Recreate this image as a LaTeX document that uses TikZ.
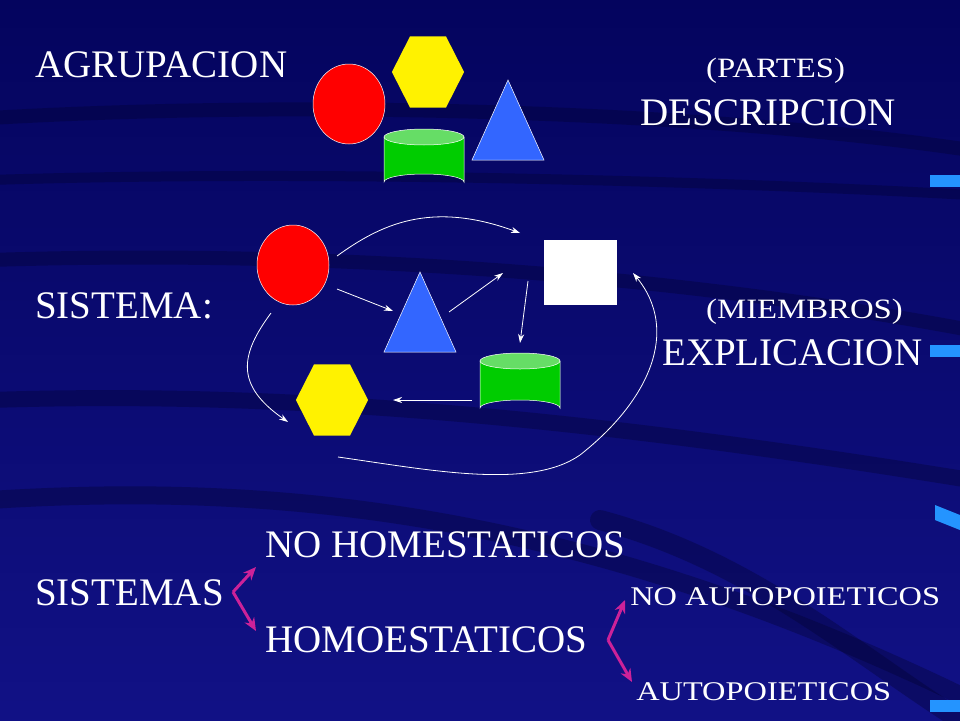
\documentclass[tikz,border=0pt]{standalone}
\usepackage{fontspec}
\setmainfont{Liberation Serif}
\usetikzlibrary{arrows.meta,shapes.geometric}
\definecolor{navy}{HTML}{04045E}
\definecolor{navyl}{HTML}{1A1AA0}
\definecolor{streak}{HTML}{02022E}
\definecolor{cylgreen}{HTML}{00CC00}
\definecolor{cyltop}{HTML}{66DD66}
\definecolor{triblue}{HTML}{3366FF}
\definecolor{mag}{HTML}{CC2299}
\tikzset{
  txt/.style={anchor=base west,inner sep=0,text=white,font=\fontsize{39}{39}\selectfont},
  stxt/.style={anchor=base west,inner sep=0,text=white,font=\fontsize{28}{28}\selectfont,xscale=1.17},
  xtxt/.style={anchor=base west,inner sep=0,text=white,font=\fontsize{27}{27}\selectfont,xscale=1.2},
  flow/.style={white,line width=0.8pt,-{Stealth[length=9pt,width=6pt]}},
  brace/.style={mag,line width=3pt,-{Stealth[length=13pt,width=11pt]}},
  redc/.style={ellipse,fill=red,draw=white,line width=0.5pt,minimum width=72pt,minimum height=80pt,inner sep=0},
  hexa/.style={regular polygon,regular polygon sides=6,shape border rotate=0,fill=yellow,minimum size=82pt,inner sep=0,xscale=0.88},
  sq/.style={fill=white,minimum width=73pt,minimum height=65pt,inner sep=0}
}
\newcommand{\cylinder}[3]{% center x, top y, bottom y
  \fill[cylgreen,draw=white,line width=0.5pt] (#1-40,#2) -- (#1-40,#3) arc[start angle=180,end angle=360,x radius=40,y radius=8] -- (#1+40,#2) -- cycle;
  \fill[cyltop,draw=white,line width=0.5pt] (#1,#2) ellipse[x radius=40,y radius=8];
}
\begin{document}
\begin{tikzpicture}[x=1pt,y=-1pt]
\useasboundingbox (0,0) rectangle (960,720);
\shade[top color=navy,bottom color=navyl!60!navy] (0,0) rectangle (960,720);
\begin{scope}[streak,opacity=0.35,line cap=round]
\draw[line width=14pt] (-10,118) .. controls (300,100) and (700,110) .. (970,150);
\draw[line width=10pt] (-10,180) .. controls (300,170) and (700,180) .. (970,195);
\draw[line width=14pt] (-10,260) .. controls (300,250) and (650,270) .. (970,330);
\draw[line width=16pt] (-10,400) .. controls (300,390) and (600,420) .. (970,480);
\draw[line width=18pt] (-10,500) .. controls (300,480) and (600,520) .. (970,700);
\draw[line width=20pt] (600,520) .. controls (750,560) and (850,650) .. (960,720);
\end{scope}
\fill[triblue!70!cyan] (930,175) rectangle (960,187);
\fill[triblue!70!cyan] (930,345) rectangle (960,357);
\fill[triblue!70!cyan] (935,505) -- (960,515) -- (960,530) -- (935,520) -- cycle;
\fill[triblue!70!cyan] (930,700) rectangle (960,712);

% texts
\node[txt] (agr) at (35,77) {AGRUPACION};
\node[stxt] (par) at (706,77) {(PARTES)};
\node[txt] (des) at (640,125) {DESCRIPCION};
\node[txt] (sis) at (35,318) {SISTEMA:};
\node[stxt] (mie) at (706,318) {(MIEMBROS)};
\node[txt] (exp) at (662,365) {EXPLICACION};
\node[txt] (noh) at (265,557) {NO HOMESTATICOS};
\node[txt] (sss) at (35,605) {SISTEMAS};
\node[xtxt] (noa) at (630,605) {NO AUTOPOIETICOS};
\node[txt] (hom) at (265,652) {HOMOESTATICOS};
\node[xtxt] (aut) at (636,700) {AUTOPOIETICOS};

% top group
\node[redc] (c1) at (349,104) {};
\node[hexa] (h1) at (428,72) {};
\fill[triblue,draw=white,line width=0.5pt] (508,80) -- (544,160) -- (472,160) -- cycle;
\cylinder{424}{137}{182}

% middle system
\node[redc] (c2) at (293,265) {};
\node[sq] (s2) at (580.5,272.5) {};
\node[hexa] (h2) at (332,400) {};
\fill[triblue,draw=white,line width=0.5pt] (420,272) -- (456,352) -- (384,352) -- cycle;
\cylinder{520}{361}{408}

\coordinate (a1) at (337,256); \coordinate (a2) at (520,233);
\draw[flow] (a1) .. controls (380,225) and (430,200) .. (a2);
\coordinate (b1) at (337,289); \coordinate (b2) at (393,311);
\draw[flow] (b1) -- (b2);
\coordinate (d1) at (449,312); \coordinate (d2) at (503,273);
\draw[flow] (d1) -- (d2);
\coordinate (e1) at (528,281); \coordinate (e2) at (520,343);
\draw[flow] (e1) -- (e2);
\coordinate (f1) at (472,400); \coordinate (f2) at (393,400);
\draw[flow] (f1) -- (f2);
\coordinate (k1) at (271,313); \coordinate (k2) at (288,422);
\draw[flow] (k1) .. controls (240,355) and (235,385) .. (k2);
\coordinate (m1) at (338,457); \coordinate (m2) at (633,273);
\draw[flow] (m1) .. controls (430,470) and (530,490) .. (580,455) .. controls (650,400) and (680,330) .. (m2);

% braces
\coordinate (p0) at (233,592);
\coordinate (p1) at (256,567); \coordinate (p2) at (256,631);
\draw[brace] (p0) -- (p1);
\draw[brace] (p0) -- (p2);
\coordinate (q0) at (608,640);
\coordinate (q1) at (625,600); \coordinate (q2) at (632,682);
\draw[brace] (q0) -- (q1);
\draw[brace] (q0) -- (q2);
\end{tikzpicture}
\end{document}
